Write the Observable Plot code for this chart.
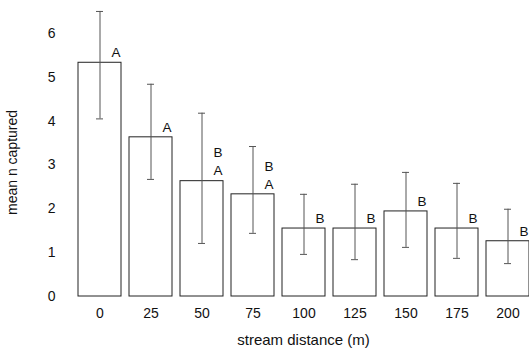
<!DOCTYPE html>
<html>
<head>
<meta charset="utf-8">
<script src="https://cdn.jsdelivr.net/npm/d3@7"></script>
<script src="https://cdn.jsdelivr.net/npm/@observablehq/plot@0.6"></script>
<style>
  html, body { margin: 0; padding: 0; background: #fff; overflow: hidden; }
</style>
</head>
<body>
<div id="chart"></div>
<script>
const distances = ["0", "25", "50", "75", "100", "125", "150", "175", "200"];
const means = [5.33, 3.63, 2.63, 2.33, 1.55, 1.55, 1.94, 1.55, 1.26];
const errLow = [4.05, 2.67, 1.21, 1.44, 0.96, 0.84, 1.12, 0.87, 0.75];
const errHigh = [6.5, 4.84, 4.18, 3.42, 2.33, 2.56, 2.83, 2.58, 1.99];
const lettersLower = ["A", "A", "A", "A", "B", "B", "B", "B", "B"];
const lettersUpper = ["", "", "B", "B", "", "", "", "", ""];
const yTicks = [0, 1, 2, 3, 4, 5, 6];
const xTitle = "stream distance (m)";
const yTitle = "mean n captured";

const data = distances.map((d, i) => ({
  d, mean: means[i], lo: errLow[i], hi: errHigh[i],
  lower: lettersLower[i], upper: lettersUpper[i]
}));

const font = "'Liberation Sans', Arial, sans-serif";

const chart = Plot.plot({
  width: 529,
  height: 349,
  marginLeft: 67,
  marginRight: 0,
  marginTop: 0,
  marginBottom: 53,
  style: { fontFamily: font, fontSize: "14px", color: "#111", background: "#fff", overflow: "visible" },
  x: { domain: distances, range: [67, 540], padding: 0.15 },
  y: { domain: [0, 6.75], range: [296, 0] },
  marks: [
    Plot.barY(data, { x: "d", y: "mean", fill: "white", stroke: "#222", strokeWidth: 1 }),
    Plot.ruleX(data, { x: "d", y1: "lo", y2: "hi", stroke: "#555", strokeWidth: 1 }),
    Plot.tickY(data, { x: "d", y: "hi", stroke: "#555", insetLeft: 18, insetRight: 18 }),
    Plot.tickY(data, { x: "d", y: "lo", stroke: "#555", insetLeft: 18, insetRight: 18 }),
    Plot.text(data, { x: "d", y: "mean", text: "lower", dx: 16, dy: -10, fontSize: 13.5, fill: "#111" }),
    Plot.text(data, { x: "d", y: "mean", text: "upper", dx: 16, dy: -28, fontSize: 13.5, fill: "#111" }),
    Plot.axisY({ ticks: yTicks, tickFormat: "d", tickSize: 0, tickPadding: 12, label: null, fontSize: 14 }),
    Plot.axisX({ tickSize: 0, tickPadding: 12, label: null, fontSize: 14 }),
    Plot.text([xTitle], { frameAnchor: "bottom", text: d => d, textAnchor: "middle", lineAnchor: "middle", dx: 5, dy: 44, fontSize: 15, fill: "#111" }),
    Plot.text([yTitle], { frameAnchor: "left", text: d => d, textAnchor: "middle", lineAnchor: "middle", rotate: -90, dx: -55, dy: 14, fontSize: 14, fill: "#111" })
  ]
});
document.getElementById("chart").appendChild(chart);
</script>
</body>
</html>
